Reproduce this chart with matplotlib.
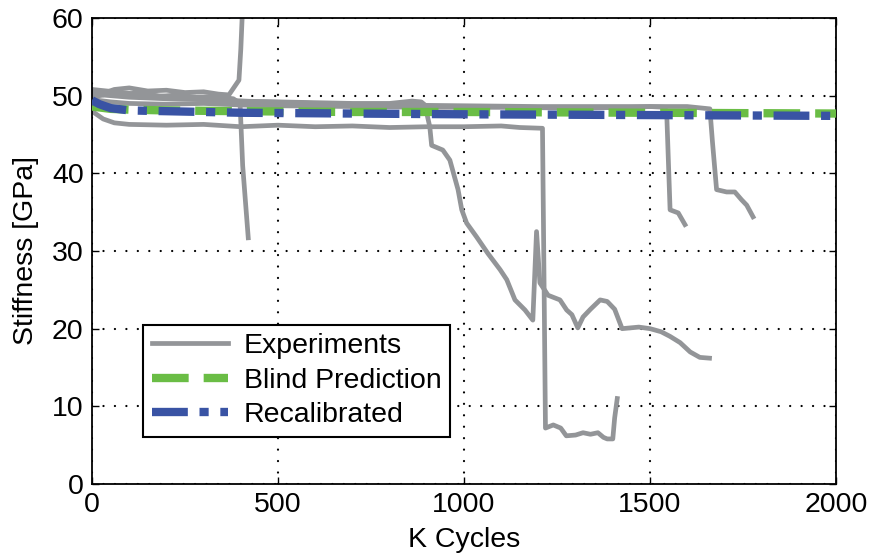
import matplotlib
matplotlib.use("Agg")
import matplotlib.pyplot as plt

plt.rcParams["font.family"] = ["Liberation Sans", "DejaVu Sans"]

# --- experiments (K cycles, stiffness GPa) ---
exp1_x = [0, 30, 60, 100, 150, 200, 250, 300, 340, 368, 395, 400, 404]
exp1_y = [50.5, 50.3, 50.8, 51.0, 50.6, 50.7, 50.4, 50.5, 50.2, 50.1, 52.0, 56.0, 60.5]

exp2_x = [0, 40, 80, 130, 180, 230, 280, 330, 380, 398, 405, 420]
exp2_y = [49.8, 50.2, 50.0, 50.5, 49.9, 50.1, 49.8, 49.9, 49.6, 49.0, 41.0, 31.7]

exp3_x = [0, 60, 120, 200, 300, 400, 500, 600, 700, 800, 860, 885, 895, 908, 913,
          943, 962, 984, 994, 1007, 1034, 1064, 1097, 1115, 1137, 1164, 1185, 1195,
          1204, 1226, 1258, 1276, 1290, 1306, 1320, 1340, 1366, 1385, 1405, 1425,
          1470, 1500, 1530, 1554, 1581, 1608, 1634, 1660]
exp3_y = [50.8, 50.5, 50.2, 49.9, 49.5, 49.3, 49.2, 49.1, 49.0, 49.0, 49.3, 49.2, 48.8,
          46.0, 43.6, 43.0, 41.7, 37.9, 35.3, 33.6, 31.8, 29.7, 27.6, 26.3, 23.7, 22.4,
          21.1, 32.5, 25.9, 24.3, 23.7, 22.4, 21.8, 20.1, 21.5, 22.5, 23.7, 23.5, 22.5,
          20.0, 20.2, 20.0, 19.6, 19.0, 18.2, 17.0, 16.3, 16.2]

exp4_x = [0, 30, 60, 100, 200, 300, 400, 500, 600, 700, 800, 900, 1000, 1100, 1150,
          1211, 1215, 1219, 1240, 1260, 1275, 1300, 1320, 1340, 1360, 1375, 1385, 1400,
          1405, 1412]
exp4_y = [48.0, 47.0, 46.5, 46.3, 46.2, 46.3, 46.0, 46.2, 46.0, 46.1, 45.9, 46.0, 46.0,
          46.1, 45.9, 45.8, 27.0, 7.2, 7.6, 7.2, 6.2, 6.3, 6.6, 6.4, 6.6, 6.0, 5.8, 5.8,
          8.5, 11.0]

exp5_x = [0, 50, 100, 200, 300, 400, 500, 700, 900, 1100, 1300, 1450, 1500, 1540, 1545,
          1554, 1576, 1594]
exp5_y = [49.5, 49.2, 49.0, 48.9, 49.0, 48.8, 48.7, 48.6, 48.5, 48.5, 48.4, 48.5, 48.6,
          48.5, 47.7, 35.3, 34.9, 33.4]

exp6_x = [0, 50, 100, 200, 300, 400, 600, 800, 1000, 1200, 1400, 1600, 1661, 1668,
          1679, 1706, 1728, 1746, 1760, 1777]
exp6_y = [50.2, 50.0, 49.8, 49.6, 49.5, 49.3, 49.0, 48.8, 48.7, 48.6, 48.6, 48.6, 48.3,
          44.0, 37.9, 37.6, 37.6, 36.6, 35.9, 34.4]

experiments = [(exp1_x, exp1_y), (exp2_x, exp2_y), (exp3_x, exp3_y),
               (exp4_x, exp4_y), (exp5_x, exp5_y), (exp6_x, exp6_y)]

# --- models ---
blind_x = [0, 50, 100, 200, 400, 700, 1000, 1500, 2000]
blind_y = [48.6, 48.3, 48.2, 48.1, 48.0, 47.9, 47.9, 47.8, 47.7]

recal_x = [0, 20, 50, 100, 200, 400, 700, 1000, 1500, 2000]
recal_y = [49.4, 48.9, 48.4, 48.1, 48.0, 47.8, 47.7, 47.6, 47.5, 47.4]

gray = "#939598"
green = "#6abd45"
blue = "#3953a4"
fs = 20.5

fig = plt.figure(figsize=(8.73, 5.54), dpi=100)
ax = fig.add_axes([0.1054, 0.1264, 0.8522, 0.8411])

for i, (xs, ys) in enumerate(experiments):
    ax.plot(xs, ys, color=gray, lw=3.4, solid_joinstyle="round",
            label="Experiments" if i == 0 else None, zorder=2)

ax.plot(blind_x, blind_y, color=green, lw=6, dashes=(4.4, 1.8),
        label="Blind Prediction", zorder=3)
ax.plot(recal_x, recal_y, color=blue, lw=6, dashes=(4.3, 1.4, 1.1, 1.4),
        label="Recalibrated", zorder=4)

ax.set_xlim(0, 2000)
ax.set_ylim(0, 60)
ax.set_xticks([0, 500, 1000, 1500, 2000])
ax.set_yticks([0, 10, 20, 30, 40, 50, 60])
ax.grid(True, color="black", lw=1.6, linestyle=(0, (0.05, 5.1)),
        dash_capstyle="round")
ax.tick_params(direction="in", length=5, width=1, top=True, right=True,
               labelsize=fs, pad=6)
for s in ax.spines.values():
    s.set_linewidth(1.3)

ax.set_xlabel("K Cycles", fontsize=fs, labelpad=6)
ax.set_ylabel("Stiffness [GPa]", fontsize=fs, labelpad=9)

leg = ax.legend(loc="lower left", bbox_to_anchor=(0.0685, 0.1009),
                borderaxespad=0, fontsize=fs, handlelength=2.7,
                fancybox=False, framealpha=1, edgecolor="black",
                borderpad=0.3, labelspacing=0.3, handletextpad=0.55)
leg.get_frame().set_linewidth(1.5)

fig.savefig("out.png", dpi=100)
